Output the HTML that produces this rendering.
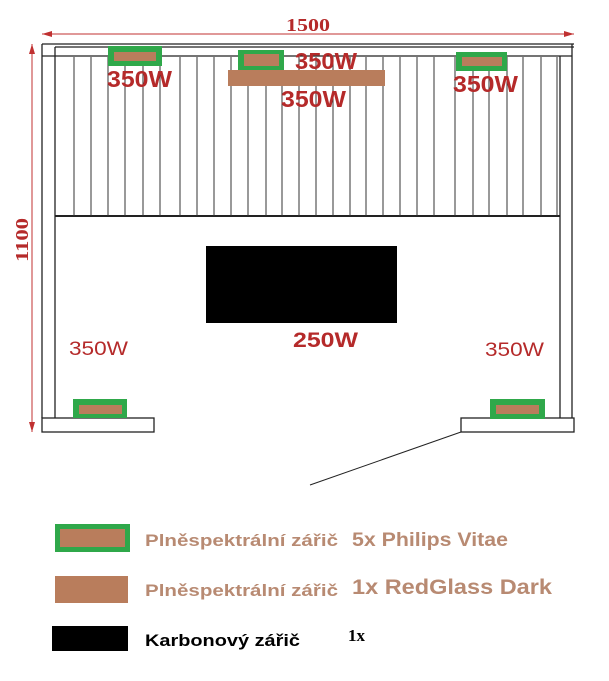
<!DOCTYPE html>
<html><head><meta charset="utf-8"><style>
html,body{margin:0;padding:0;background:#fff;}
svg{display:block;}
.r{font-family:"Liberation Sans",sans-serif;font-weight:bold;fill:#b52a2a;}
.l{font-family:"Liberation Sans","DejaVu Sans",sans-serif;font-weight:bold;fill:#b88a72;}
</style></head><body>
<svg width="609" height="681" viewBox="0 0 609 681" xmlns="http://www.w3.org/2000/svg">
<line x1="42" y1="34" x2="574" y2="34" stroke="#c03030" stroke-width="1"/>
<polygon points="42,34 52,31 52,37" fill="#c03030"/>
<polygon points="574,34 564,31 564,37" fill="#c03030"/>
<text x="286" y="31" class="r" font-size="18" textLength="44" lengthAdjust="spacingAndGlyphs" style="font-family:'Liberation Serif',serif">1500</text>
<line x1="32" y1="44" x2="32" y2="432" stroke="#c03030" stroke-width="1"/>
<polygon points="32,44 29,54 35,54" fill="#c03030"/>
<polygon points="32,432 29,422 35,422" fill="#c03030"/>
<text transform="translate(28,262) rotate(-90)" class="r" font-size="18" textLength="44" lengthAdjust="spacingAndGlyphs" style="font-family:'Liberation Serif',serif">1100</text>
<g stroke="#222" stroke-width="1.3" fill="none">
<line x1="42" y1="44" x2="574" y2="44"/>
<line x1="55" y1="47" x2="574" y2="47"/>
<line x1="42" y1="56" x2="572" y2="56"/>
<line x1="42" y1="44" x2="42" y2="418"/>
<line x1="55" y1="47" x2="55" y2="418"/>
<line x1="560" y1="56" x2="560" y2="418"/>
<line x1="572" y1="44" x2="572" y2="418"/>
<line x1="55" y1="216" x2="560" y2="216" stroke-width="2"/>
<rect x="42" y="418" width="112" height="14"/>
<rect x="461" y="418" width="113" height="14"/>
<line x1="461" y1="432" x2="310" y2="485" stroke-width="1"/>
</g>
<g stroke="#333" stroke-width="1">
<line x1="74" y1="57" x2="74" y2="216"/><line x1="91" y1="57" x2="91" y2="216"/><line x1="108" y1="57" x2="108" y2="216"/><line x1="125" y1="57" x2="125" y2="216"/><line x1="143" y1="57" x2="143" y2="216"/><line x1="160" y1="57" x2="160" y2="216"/><line x1="180" y1="57" x2="180" y2="216"/><line x1="197" y1="57" x2="197" y2="216"/><line x1="214" y1="57" x2="214" y2="216"/><line x1="231" y1="57" x2="231" y2="216"/><line x1="248" y1="57" x2="248" y2="216"/><line x1="266" y1="57" x2="266" y2="216"/><line x1="282" y1="57" x2="282" y2="216"/><line x1="299" y1="57" x2="299" y2="216"/><line x1="316" y1="57" x2="316" y2="216"/><line x1="333" y1="57" x2="333" y2="216"/><line x1="350" y1="57" x2="350" y2="216"/><line x1="366" y1="57" x2="366" y2="216"/><line x1="383" y1="57" x2="383" y2="216"/><line x1="400" y1="57" x2="400" y2="216"/><line x1="417" y1="57" x2="417" y2="216"/><line x1="434" y1="57" x2="434" y2="216"/><line x1="455" y1="57" x2="455" y2="216"/><line x1="473" y1="57" x2="473" y2="216"/><line x1="489" y1="57" x2="489" y2="216"/><line x1="507" y1="57" x2="507" y2="216"/><line x1="523" y1="57" x2="523" y2="216"/><line x1="541" y1="57" x2="541" y2="216"/><line x1="557" y1="57" x2="557" y2="216"/>
</g>
<rect x="108" y="46" width="54" height="20" fill="#2fa84a"/><rect x="114" y="52" width="42" height="9" fill="#b97d5c"/>
<rect x="238" y="50" width="46" height="21" fill="#2fa84a"/><rect x="244" y="54" width="35" height="12" fill="#b97d5c"/>
<rect x="456" y="52" width="51" height="19" fill="#2fa84a"/><rect x="462" y="57" width="40" height="9" fill="#b97d5c"/>
<rect x="228" y="70" width="157" height="16" fill="#b97d5c"/>
<rect x="73" y="399" width="54" height="19" fill="#2fa84a"/><rect x="79" y="405" width="43" height="9" fill="#b97d5c"/>
<rect x="490" y="399" width="55" height="20" fill="#2fa84a"/><rect x="496" y="405" width="43" height="9" fill="#b97d5c"/>
<rect x="206" y="246" width="191" height="77" fill="#000"/>
<text x="107" y="87" class="r" font-size="23" textLength="65" lengthAdjust="spacingAndGlyphs">350W</text>
<text x="295" y="69" class="r" font-size="23" textLength="62" lengthAdjust="spacingAndGlyphs">350W</text>
<text x="281" y="107" class="r" font-size="23" textLength="65" lengthAdjust="spacingAndGlyphs">350W</text>
<text x="453" y="92" class="r" font-size="23" textLength="65" lengthAdjust="spacingAndGlyphs">350W</text>
<text x="293" y="347" class="r" font-size="21" textLength="65" lengthAdjust="spacingAndGlyphs">250W</text>
<text x="69" y="355" class="r" font-size="19" style="font-weight:normal" textLength="59" lengthAdjust="spacingAndGlyphs">350W</text>
<text x="485" y="356" class="r" font-size="19" style="font-weight:normal" textLength="59" lengthAdjust="spacingAndGlyphs">350W</text>
<rect x="55" y="524" width="75" height="28" fill="#2fa84a"/><rect x="60" y="529" width="65" height="18" fill="#b97d5c"/>
<text x="145" y="546" class="l" font-size="17" textLength="193" lengthAdjust="spacingAndGlyphs">Plněspektrální zářič</text>
<text x="352" y="546" class="l" font-size="19" textLength="156" lengthAdjust="spacingAndGlyphs">5x Philips Vitae</text>
<rect x="55" y="576" width="73" height="27" fill="#b97d5c"/>
<text x="145" y="596" class="l" font-size="17" textLength="193" lengthAdjust="spacingAndGlyphs">Plněspektrální zářič</text>
<text x="352" y="594" class="l" font-size="21" textLength="200" lengthAdjust="spacingAndGlyphs">1x  RedGlass Dark</text>
<rect x="52" y="626" width="76" height="25" fill="#000"/>
<text x="145" y="646" font-family="Liberation Sans,sans-serif" font-weight="bold" font-size="17" fill="#000" textLength="155" lengthAdjust="spacingAndGlyphs">Karbonový zářič</text>
<text x="348" y="641" font-family="Liberation Serif,serif" font-weight="bold" font-size="17" fill="#000">1x</text>
</svg>
</body></html>
